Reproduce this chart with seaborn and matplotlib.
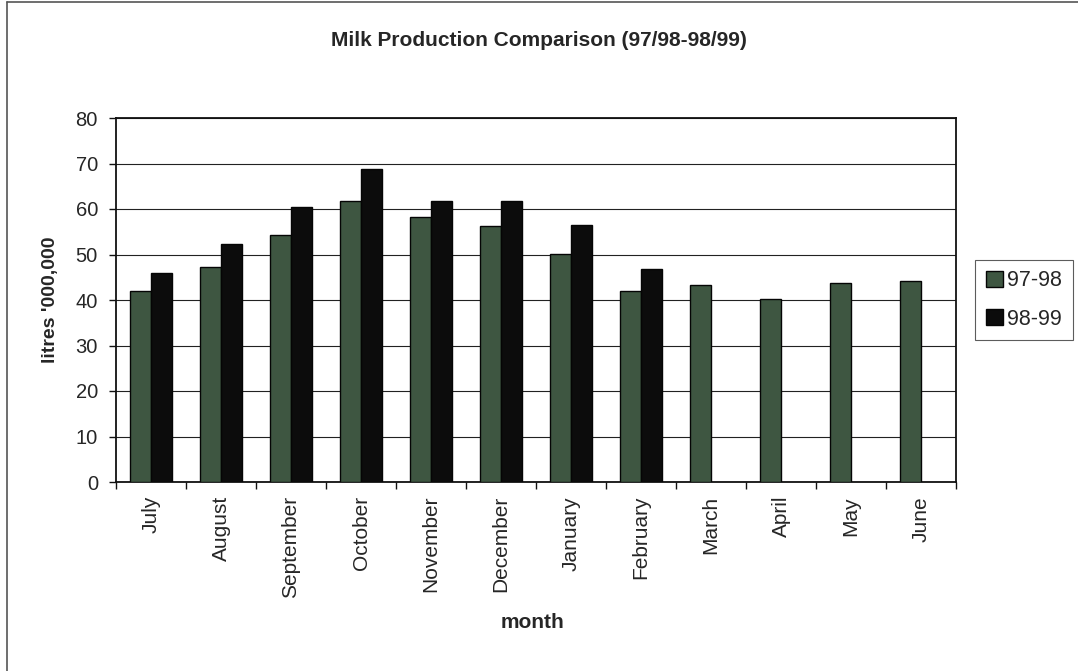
import numpy as np
import pandas as pd
import matplotlib
matplotlib.use("Agg")
import matplotlib.pyplot as plt
from matplotlib.lines import Line2D
import seaborn as sns

months = ["July", "August", "September", "October", "November", "December",
          "January", "February", "March", "April", "May", "June"]
season_9798 = [42.0, 47.2, 54.3, 61.8, 58.2, 56.2, 50.2, 42.0, 43.4, 40.2, 43.8, 44.1]
season_9899 = [46.0, 52.2, 60.5, 68.9, 61.8, 61.8, 56.5, 46.9, np.nan, np.nan, np.nan, np.nan]
seasons = ["97-98", "98-99"]
colors = ["#3a5a3e", "#0c0c0c"]

df = pd.DataFrame({
    "month": months * 2,
    "season": [seasons[0]] * len(months) + [seasons[1]] * len(months),
    "litres": season_9798 + season_9899,
})

sns.set_theme(style="white")
plt.rcParams["font.family"] = ["Liberation Sans", "DejaVu Sans"]

fig = plt.figure(figsize=(10.78, 6.71), dpi=100)
ax = fig.add_axes([116 / 1078, 1 - 482 / 671, 840 / 1078, 364 / 671])

sns.barplot(data=df, x="month", y="litres", hue="season", order=months,
            hue_order=seasons, palette=colors, width=0.6, ax=ax,
            edgecolor="#050505", linewidth=1.0, errorbar=None, zorder=3)

ax.set_ylim(0, 80)
ax.set_xlim(-0.5, len(months) - 0.5)
ax.set_yticks(range(0, 81, 10))
ax.yaxis.grid(True, color="#222222", linewidth=0.8, zorder=0)
ax.set_axisbelow(True)

for s in ax.spines.values():
    s.set_visible(True)
    s.set_color("#111111")
    s.set_linewidth(1.3)

# x ticks sit on the category boundaries
ax.set_xticks(np.arange(len(months)))
ax.set_xticklabels(months, rotation=90, fontsize=15)
ax.set_xticks(np.arange(-0.5, len(months)), minor=True)
ax.tick_params(axis="x", which="major", length=0, pad=10)
ax.tick_params(axis="x", which="minor", length=5, width=1, color="#111111",
               direction="out", bottom=True)
ax.tick_params(axis="y", length=5, width=1, color="#111111", direction="out",
               left=True, labelsize=14.5, pad=8)

ax.set_xlabel("")
ax.set_ylabel("litres '000,000", fontsize=14, fontweight="bold", labelpad=12)
fig.text(533 / 1078, 1 - 622 / 671, "month", ha="center", va="center",
         fontsize=15, fontweight="bold")

fig.text(539 / 1078, 1 - 40 / 671, "Milk Production Comparison (97/98-98/99)",
         ha="center", va="center", fontsize=15, fontweight="bold")

leg = ax.legend(loc="center left", bbox_to_anchor=(975 / 1078, 1 - 300 / 671),
                bbox_transform=fig.transFigure, frameon=True, fontsize=15.5,
                handlelength=0.8, handleheight=0.8, handletextpad=0.2,
                borderpad=0.5, labelspacing=0.8, fancybox=False,
                borderaxespad=0)
leg.get_frame().set_edgecolor("#333333")
leg.get_frame().set_linewidth(0.8)

# frame lines along the left and top edges of the chart area
fig.add_artist(Line2D([7 / 1078, 7 / 1078], [0, 1 - 2 / 671],
                      transform=fig.transFigure, color="#555555", linewidth=1.2))
fig.add_artist(Line2D([7 / 1078, 1], [1 - 2 / 671, 1 - 2 / 671],
                      transform=fig.transFigure, color="#555555", linewidth=1.2))

fig.savefig("out.png", dpi=100)
